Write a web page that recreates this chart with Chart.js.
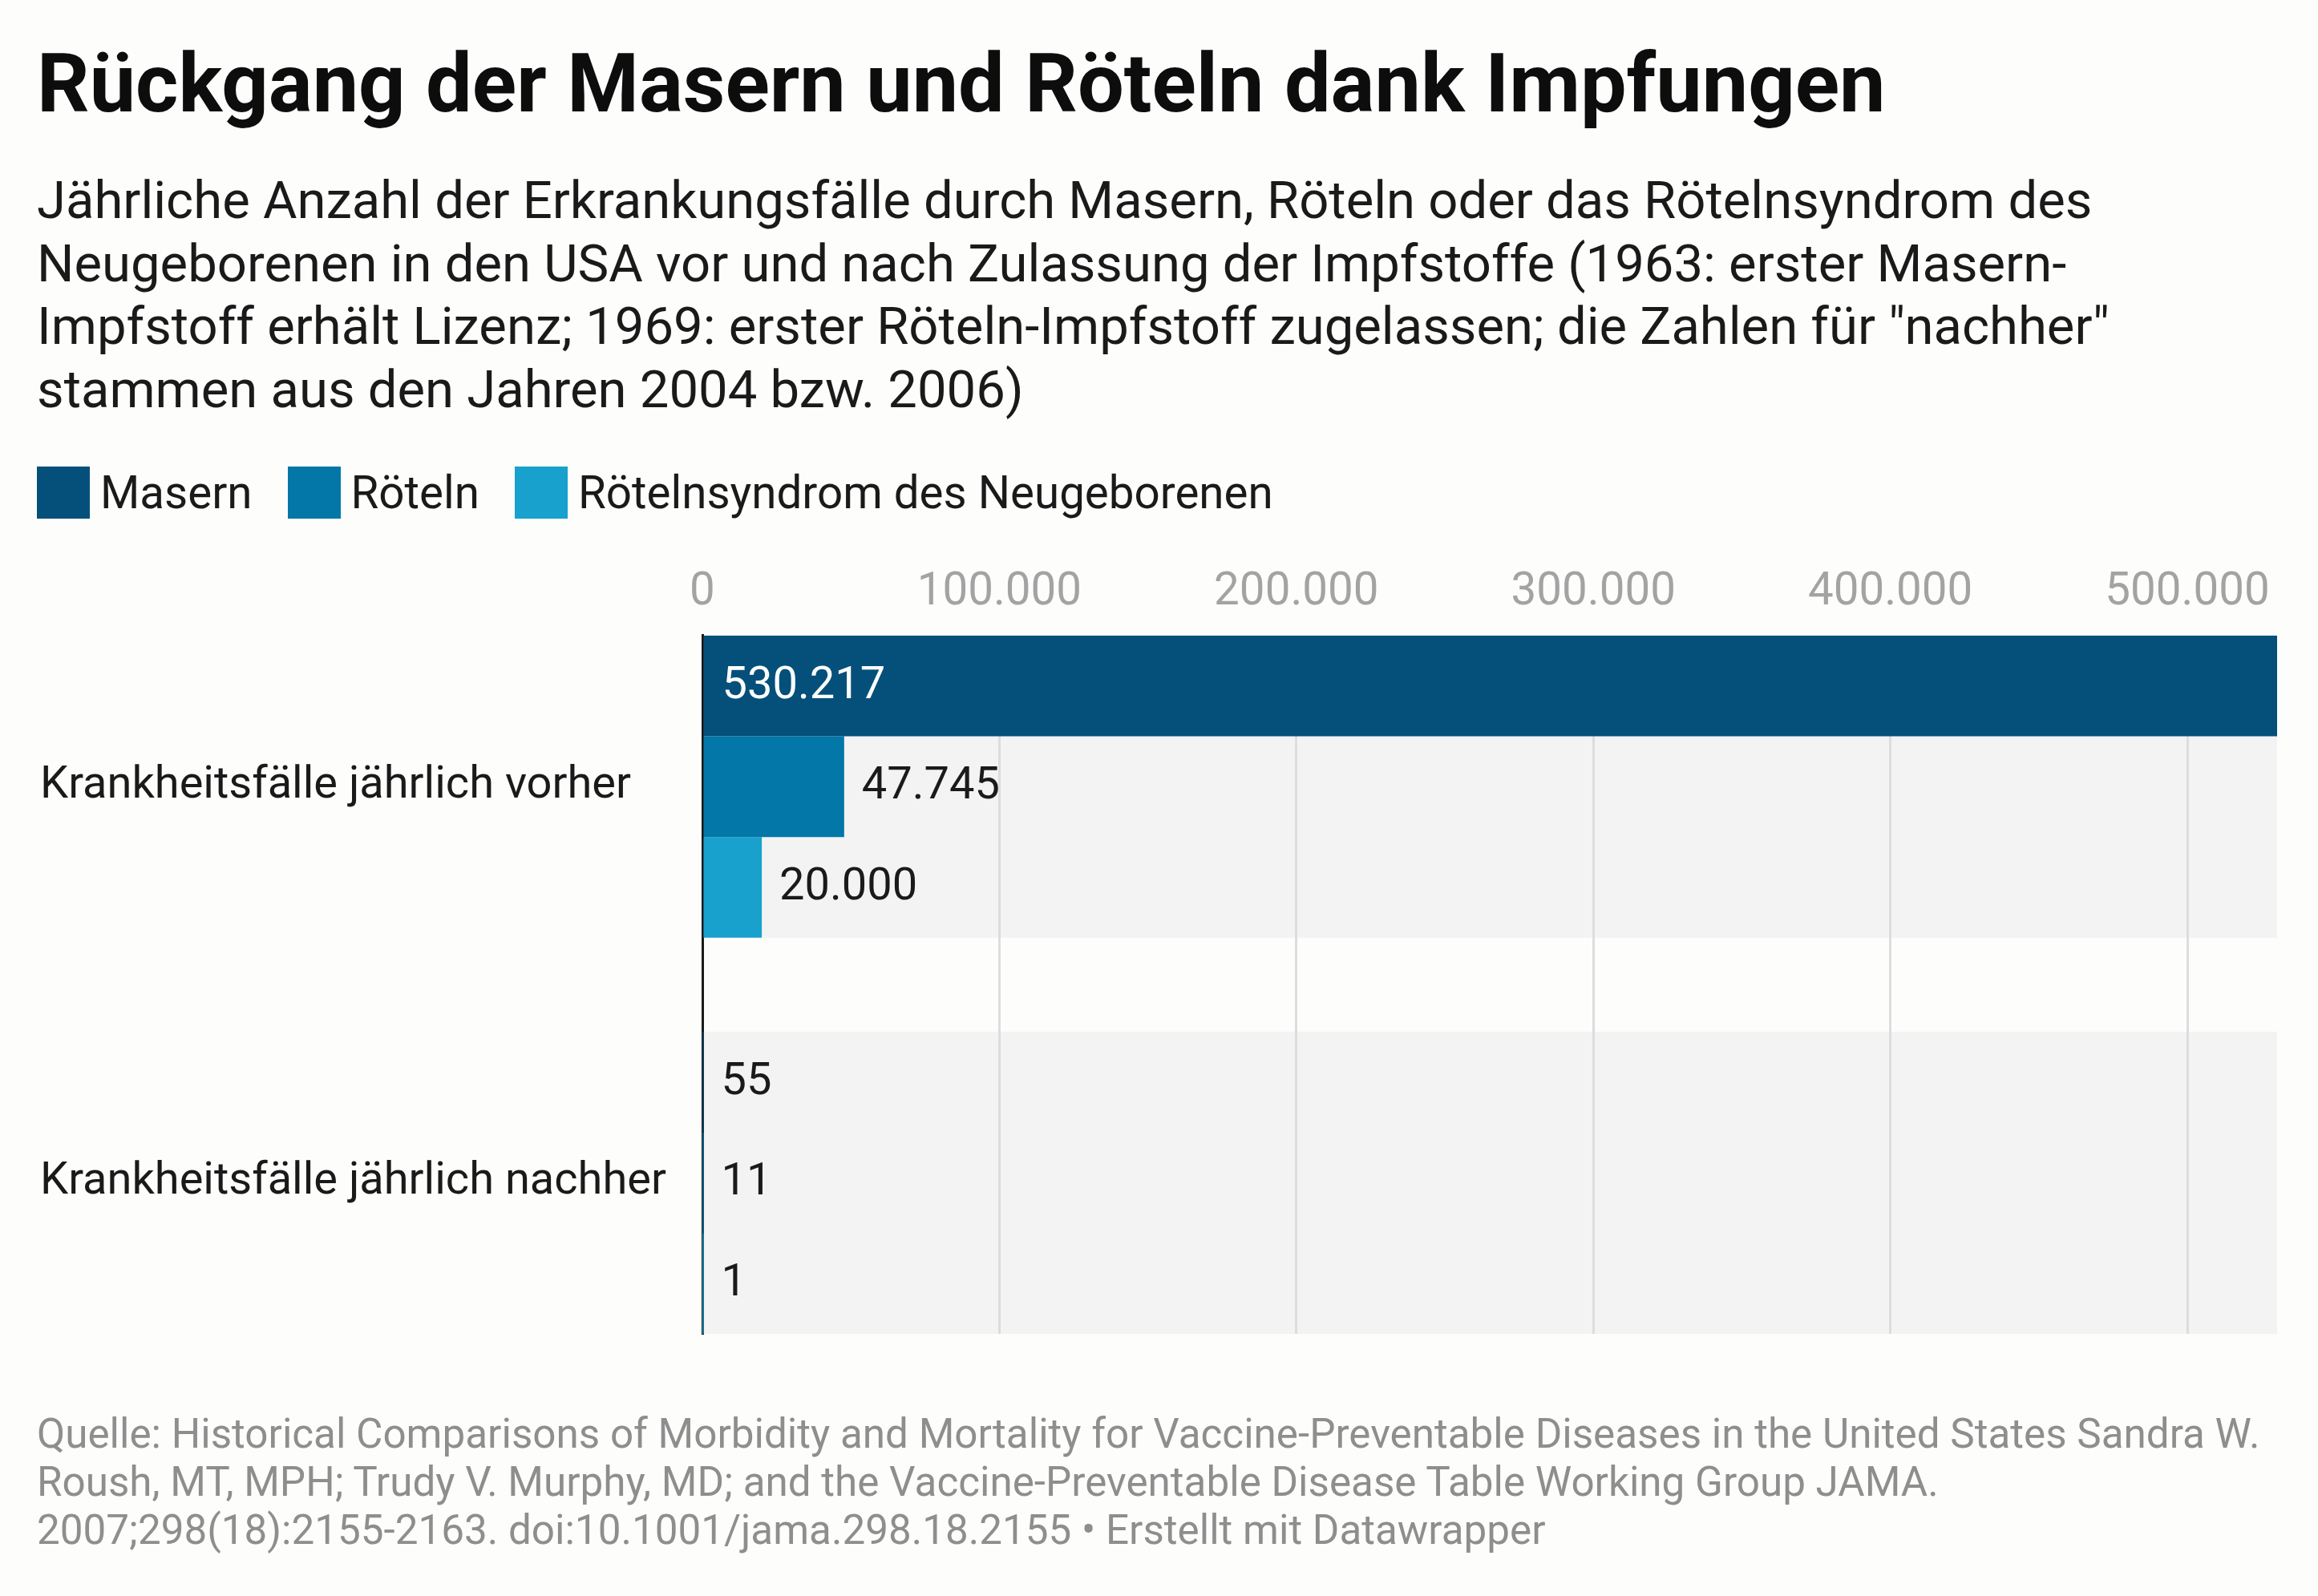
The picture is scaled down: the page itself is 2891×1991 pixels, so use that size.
<!DOCTYPE html>
<html lang="de">
<head>
<meta charset="utf-8">
<title>Rückgang der Masern und Röteln dank Impfungen</title>
<script src="https://cdn.jsdelivr.net/npm/chart.js@4.4.1/dist/chart.umd.min.js"></script>
<style>
  html, body { margin: 0; padding: 0; }
  body {
    width: 2891px; height: 1991px; position: relative; overflow: hidden;
    background: #fdfdfc; font-family: Roboto, "Noto Sans", sans-serif;
  }
  #title {
    position: absolute; left: 46px; top: 43px;
    font-size: 102.5px; font-weight: 700; line-height: 1.2; color: #0d0d0d;
    white-space: nowrap;
  }
  #subtitle {
    position: absolute; left: 46px; top: 211px;
    font-size: 65.2px; line-height: 78.5px; color: #1a1a1a;
    white-space: nowrap;
  }
  #legend {
    position: absolute; left: 46px; top: 582px; height: 65px;
    display: flex; align-items: center;
    font-size: 56.5px; color: #1a1a1a; white-space: nowrap;
  }
  #legend .item { display: flex; align-items: center; margin-right: 44px; }
  #legend .box { width: 66px; height: 65px; margin-right: 13px; }
  #chartWrap { position: absolute; left: 0; top: 660px; width: 2891px; height: 1060px; }
  #footer {
    position: absolute; left: 46px; top: 1759px;
    font-size: 51.2px; line-height: 60px; color: #8e8e8e;
    white-space: nowrap;
  }
</style>
</head>
<body>
<div id="title">Rückgang der Masern und Röteln dank Impfungen</div>
<div id="subtitle">Jährliche Anzahl der Erkrankungsfälle durch Masern, Röteln oder das Rötelnsyndrom des<br>Neugeborenen in den USA vor und nach Zulassung der Impfstoffe (1963: erster Masern-<br>Impfstoff erhält Lizenz; 1969: erster Röteln-Impfstoff zugelassen; die Zahlen für "nachher"<br>stammen aus den Jahren 2004 bzw. 2006)</div>
<div id="legend"></div>
<div id="chartWrap"><canvas id="bars" width="2891" height="1060"></canvas></div>
<div id="footer">Quelle: Historical Comparisons of Morbidity and Mortality for Vaccine-Preventable Diseases in the United States Sandra W.<br>Roush, MT, MPH; Trudy V. Murphy, MD; and the Vaccine-Preventable Disease Table Working Group JAMA.<br>2007;298(18):2155-2163. doi:10.1001/jama.298.18.2155 • Erstellt mit Datawrapper</div>

<script>
// data
const categories = ["Krankheitsfälle jährlich vorher", "Krankheitsfälle jährlich nachher"];
const seriesNames = ["Masern", "Röteln", "Rötelnsyndrom des Neugeborenen"];
const masern = [530217, 55];
const roeteln = [47745, 11];
const roetelnsyndrom = [20000, 1];
const xTickValues = [0, 100000, 200000, 300000, 400000, 500000];

const seriesColors = ["#05507a", "#0377a8", "#18a1cd"];
const groupShare = 0.763; // share of each category taken by its bars

// German thousands separator
function fmt(v) {
    return String(v).replace(/\B(?=(\d{3})+(?!\d))/g, ".");
}

// legend
var legend = document.getElementById("legend");
seriesNames.forEach(function (name, i) {
    var item = document.createElement("span");
    item.className = "item";
    var box = document.createElement("span");
    box.className = "box";
    box.style.background = seriesColors[i];
    item.appendChild(box);
    item.appendChild(document.createTextNode(name));
    legend.appendChild(item);
});

// grey band behind every category
const bands = {
    id: "bands",
    beforeDraw(chart) {
        const ctx = chart.ctx;
        const area = chart.chartArea;
        const y = chart.scales.y;
        ctx.save();
        ctx.fillStyle = "#f3f3f4";
        categories.forEach(function (c, i) {
            const top = y.getPixelForValue(i - groupShare / 2);
            const bottom = y.getPixelForValue(i + groupShare / 2);
            ctx.fillRect(area.left, top, area.right - area.left, bottom - top);
        });
        ctx.restore();
    }
};

// value labels next to (or inside) the bars
const valueLabels = {
    id: "valueLabels",
    afterDatasetsDraw(chart) {
        const ctx = chart.ctx;
        ctx.save();
        ctx.font = "56px Roboto";
        ctx.textBaseline = "middle";
        ctx.textAlign = "left";
        chart.data.datasets.forEach(function (ds, di) {
            chart.getDatasetMeta(di).data.forEach(function (bar, i) {
                const text = fmt(ds.data[i].x);
                const w = ctx.measureText(text).width;
                const end = Math.max(bar.x, bar.base);
                if (end + 22 + w > chart.chartArea.right) {
                    ctx.fillStyle = "#ffffff";
                    ctx.fillText(text, bar.base + 23, bar.y + 1);
                } else {
                    ctx.fillStyle = "#1a1a1a";
                    ctx.fillText(text, end + 22, bar.y + 1);
                }
            });
        });
        ctx.restore();
    }
};

const allSeries = [masern, roeteln, roetelnsyndrom];

const config = {
    type: "bar",
    data: {
        datasets: allSeries.map(function (values, si) {
            return {
                label: seriesNames[si],
                data: values.map(function (v, i) { return { x: v, y: i }; }),
                backgroundColor: seriesColors[si],
                borderWidth: 0,
                categoryPercentage: groupShare,
                barPercentage: 1
            };
        })
    },
    options: {
        indexAxis: "y",
        responsive: false,
        animation: false,
        devicePixelRatio: 1,
        layout: { padding: { top: 26, left: 50, right: 51, bottom: 56 } },
        plugins: {
            legend: { display: false },
            tooltip: { enabled: false }
        },
        scales: {
            x: {
                type: "linear",
                position: "top",
                min: 0,
                max: Math.max.apply(null, masern),
                afterBuildTicks: function (axis) {
                    axis.ticks = xTickValues.map(function (v) { return { value: v }; });
                },
                ticks: {
                    callback: function (v) { return fmt(v); },
                    font: { family: "Roboto", size: 56.5 },
                    color: "#a3a3a3",
                    padding: 19.5,
                    maxRotation: 0
                },
                grid: {
                    drawTicks: false,
                    lineWidth: 3,
                    color: function (ctx) {
                        return ctx.tick && ctx.tick.value === 0 ? "rgba(0,0,0,0)" : "#dddddd";
                    }
                },
                border: { display: false }
            },
            y: {
                type: "linear",
                reverse: true,
                offset: false,
                min: -groupShare / 2,
                max: categories.length - 1 + groupShare / 2,
                afterBuildTicks: function (axis) {
                    axis.ticks = categories.map(function (c, i) { return { value: i }; });
                },
                afterFit: function (axis) {
                    axis.width = 826;
                },
                ticks: {
                    callback: function (v) { return categories[v]; },
                    font: { family: "Roboto", size: 56 },
                    color: "#1a1a1a",
                    crossAlign: "far",
                    autoSkip: false
                },
                grid: { display: false, offset: false },
                border: { display: true, color: "#1a1a1a", width: 3 }
            }
        }
    },
    plugins: [bands, valueLabels]
};

document.fonts.ready.then(function () {
    new Chart(document.getElementById("bars"), config);
});
</script>
</body>
</html>
